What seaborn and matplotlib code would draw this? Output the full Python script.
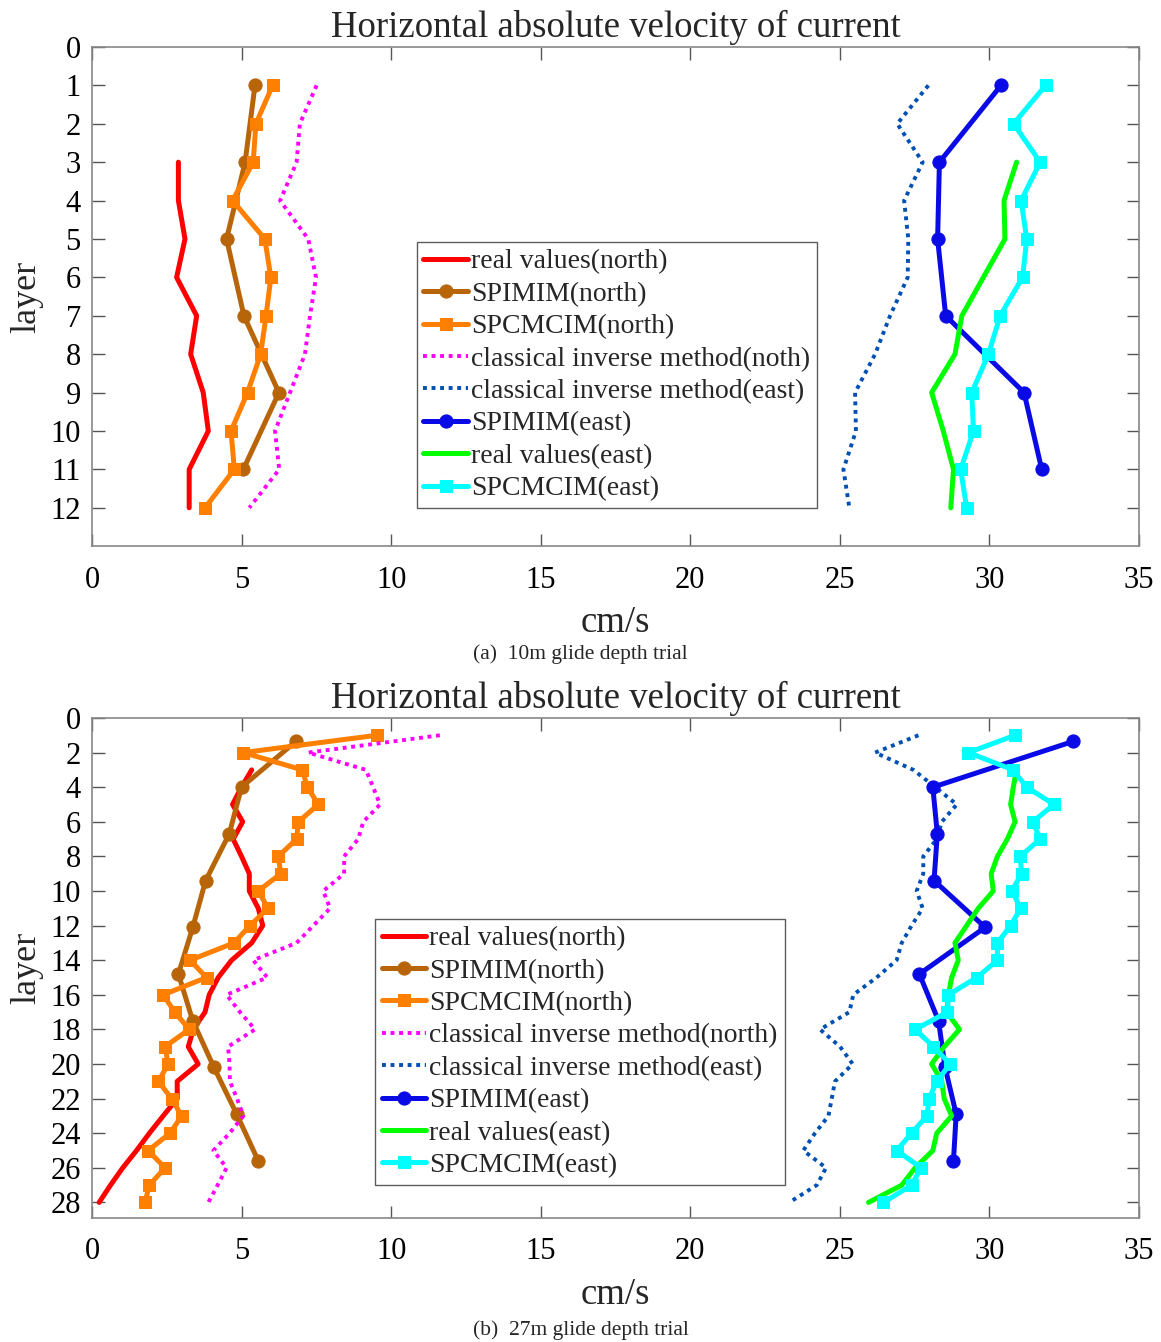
import numpy as np
import pandas as pd
import matplotlib
matplotlib.use("Agg")
import matplotlib.pyplot as plt
import seaborn as sns

# --------------------------------------------------
# data (a) 10m glide depth trial
# --------------------------------------------------
layers_a = [1, 2, 3, 4, 5, 6, 7, 8, 9, 10, 11, 12]
real_layers_a = [3, 4, 5, 6, 7, 8, 9, 10, 11, 12]
spimim_layers_a = [1, 3, 5, 7, 9, 11]

real_north_a = [2.89, 2.89, 3.11, 2.83, 3.50, 3.30, 3.72, 3.89, 3.25, 3.25]
spimim_north_a = [5.45, 5.12, 4.50, 5.08, 6.25, 5.06]
spcmcim_north_a = [6.04, 5.48, 5.39, 4.70, 5.78, 5.98, 5.82, 5.64, 5.20, 4.65, 4.76, 3.78]
cim_north_a = [7.51, 6.95, 6.84, 6.29, 7.23, 7.49, 7.29, 7.12, 6.62, 6.12, 6.26, 5.26]
cim_east_a = [27.96, 26.92, 27.77, 27.15, 27.29, 27.27, 26.68, 26.18, 25.51, 25.54, 25.12, 25.32]
spimim_east_a = [30.39, 28.33, 28.27, 28.54, 31.16, 31.75]
real_east_a = [30.91, 30.49, 30.52, 29.80, 29.08, 28.85, 28.07, 28.46, 28.80, 28.71]
spcmcim_east_a = [31.88, 30.81, 31.70, 31.06, 31.25, 31.11, 30.36, 29.97, 29.41, 29.47, 29.04, 29.24]

# --------------------------------------------------
# data (b) 27m glide depth trial
# --------------------------------------------------
layers_b = list(range(1, 29))
real_layers_b = list(range(3, 29))
spimim_layers_b = [1.35, 4.0, 6.7, 9.4, 12.1, 14.8, 17.5, 20.2, 22.9, 25.6]

real_north_b = [5.34, 5.00, 4.70, 5.04, 4.72, 5.00, 5.26, 5.26, 5.56, 5.71, 5.34, 4.67, 4.22,
                3.92, 3.78, 3.39, 3.22, 3.55, 2.85, 2.85, 2.38, 1.92, 1.49, 1.03, 0.62, 0.24]
spimim_north_b = [6.82, 5.00, 4.59, 3.80, 3.37, 2.89, 3.37, 4.08, 4.84, 5.56]
spcmcim_north_b = [9.52, 5.06, 7.03, 7.20, 7.57, 6.90, 6.84, 6.23, 6.31, 5.56, 5.89, 5.28, 4.75, 3.28,
                   3.83, 2.38, 2.77, 3.25, 2.44, 2.55, 2.22, 2.66, 3.00, 2.61, 1.88, 2.44, 1.92, 1.77]
cim_north_b = [11.63, 7.23, 9.16, 9.40, 9.63, 9.07, 8.90, 8.43, 8.43, 7.73, 7.96, 7.40, 6.84, 5.39,
               5.86, 4.50, 4.95, 5.45, 4.55, 4.60, 4.61, 4.85, 5.06, 4.60, 4.06, 4.50, 4.20, 3.89]
cim_east_b = [27.63, 26.18, 27.46, 28.19, 28.91, 28.41, 28.24, 27.79, 27.79, 27.57, 27.77, 27.40, 27.07, 26.90,
              26.23, 25.45, 25.32, 24.34, 25.01, 25.43, 24.84, 24.73, 24.62, 24.17, 23.78, 24.54, 24.23, 23.31]
spimim_east_b = [32.81, 28.11, 28.26, 28.15, 29.86, 27.66, 28.30, 28.52, 28.89, 28.80]
real_east_b = [30.91, 30.80, 30.71, 30.86, 30.60, 30.27, 30.06, 30.13, 29.63, 29.24, 28.85, 28.96, 28.74,
               28.63, 28.57, 29.00, 28.49, 28.07, 28.41, 28.49, 28.74, 28.24, 28.11, 27.52, 27.07, 25.96]
spcmcim_east_b = [30.86, 29.30, 30.79, 31.25, 32.16, 31.45, 31.70, 31.03, 31.08, 30.75, 31.05, 30.71, 30.27, 30.27,
                  29.58, 28.63, 28.60, 27.52, 28.13, 28.69, 28.24, 27.99, 27.91, 27.40, 26.90, 27.72, 27.40, 26.46]

# colours
RED = "#ff0000"
BROWN = "#b8650a"
ORANGE = "#ff8000"
MAGENTA = "#ff00ff"
DOTBLUE = "#0050b4"
BLUE = "#0a0ae6"
GREEN = "#00ff00"
CYAN = "#00ffff"

sns.set_theme(style="white")
plt.rcParams['font.family'] = ['Liberation Serif', 'DejaVu Serif']

DOT = (0, (1, 1.2))


def draw(ax, x, y, color, label, ls='-', marker=None, ms=9, lw=3.6):
    df = pd.DataFrame({'v': x, 'layer': y})
    sns.lineplot(data=df, x='v', y='layer', ax=ax, sort=False, estimator=None,
                 color=color, linestyle=ls, marker=marker, markersize=ms,
                 markeredgecolor=color, markerfacecolor=color, linewidth=lw, label=label)


def style_axes(ax, ymax, yticks, legend_anchor):
    ax.set_xlim(0, 35)
    ax.set_ylim(ymax, 0)
    ax.set_xticks(range(0, 36, 5))
    ax.set_yticks(yticks)
    ax.tick_params(direction='in', length=9, width=1.0, colors='#555555',
                   labelcolor='black', labelsize=22, top=True, right=True,
                   bottom=True, left=True)
    ax.tick_params(axis='x', pad=14)
    ax.tick_params(axis='y', pad=8)
    for s in ax.spines.values():
        s.set_color('#888888')
        s.set_linewidth(1.2)
    ax.set_title('Horizontal absolute velocity of current', fontsize=26.5, pad=7)
    ax.set_xlabel('cm/s', fontsize=26.5, labelpad=8)
    ax.set_ylabel('layer', fontsize=26, labelpad=5)
    leg = ax.legend(loc='upper left', bbox_to_anchor=legend_anchor, fontsize=20,
                    frameon=True, fancybox=False, edgecolor='#333333',
                    handlelength=1.6, handletextpad=0.12, labelspacing=0.25,
                    borderpad=0.25, borderaxespad=0)
    leg.get_frame().set_linewidth(1.0)
    return leg


fig = plt.figure(figsize=(11.61, 13.42), dpi=100)
ax1 = fig.add_axes([0.0792, 0.593, 0.9018, 0.372])
ax2 = fig.add_axes([0.0792, 0.0924, 0.9018, 0.3726])

# (a)
draw(ax1, real_north_a, real_layers_a, RED, 'real values(north)')
draw(ax1, spimim_north_a, spimim_layers_a, BROWN, 'SPIMIM(north)', marker='o', ms=9.5)
draw(ax1, spcmcim_north_a, layers_a, ORANGE, 'SPCMCIM(north)', marker='s', ms=8.5)
draw(ax1, cim_north_a, layers_a, MAGENTA, 'classical inverse method(noth)', ls=DOT, lw=2.8)
draw(ax1, cim_east_a, layers_a, DOTBLUE, 'classical inverse method(east)', ls=DOT, lw=2.8)
draw(ax1, spimim_east_a, spimim_layers_a, BLUE, 'SPIMIM(east)', marker='o', ms=9.5)
draw(ax1, real_east_a, real_layers_a, GREEN, 'real values(east)')
draw(ax1, spcmcim_east_a, layers_a, CYAN, 'SPCMCIM(east)', marker='s', ms=8.5)
style_axes(ax1, 13, range(0, 13), (0.31, 0.609))

# (b)
draw(ax2, real_north_b, real_layers_b, RED, 'real values(north)')
draw(ax2, spimim_north_b, spimim_layers_b, BROWN, 'SPIMIM(north)', marker='o', ms=9.5)
draw(ax2, spcmcim_north_b, layers_b, ORANGE, 'SPCMCIM(north)', marker='s', ms=8.5)
draw(ax2, cim_north_b, layers_b, MAGENTA, 'classical inverse method(north)', ls=DOT, lw=2.8)
draw(ax2, cim_east_b, layers_b, DOTBLUE, 'classical inverse method(east)', ls=DOT, lw=2.8)
draw(ax2, spimim_east_b, spimim_layers_b, BLUE, 'SPIMIM(east)', marker='o', ms=9.5)
draw(ax2, real_east_b, real_layers_b, GREEN, 'real values(east)')
draw(ax2, spcmcim_east_b, layers_b, CYAN, 'SPCMCIM(east)', marker='s', ms=8.5)
style_axes(ax2, 28.9, range(0, 29, 2), (0.27, 0.598))

fig.text(0.5, 1 - 654 / 1342, '(a)  10m glide depth trial', ha='center', va='center', fontsize=15.5)
fig.text(0.5, 1 - 1330 / 1342, '(b)  27m glide depth trial', ha='center', va='center', fontsize=15.5)

fig.savefig('out.png', dpi=100)
